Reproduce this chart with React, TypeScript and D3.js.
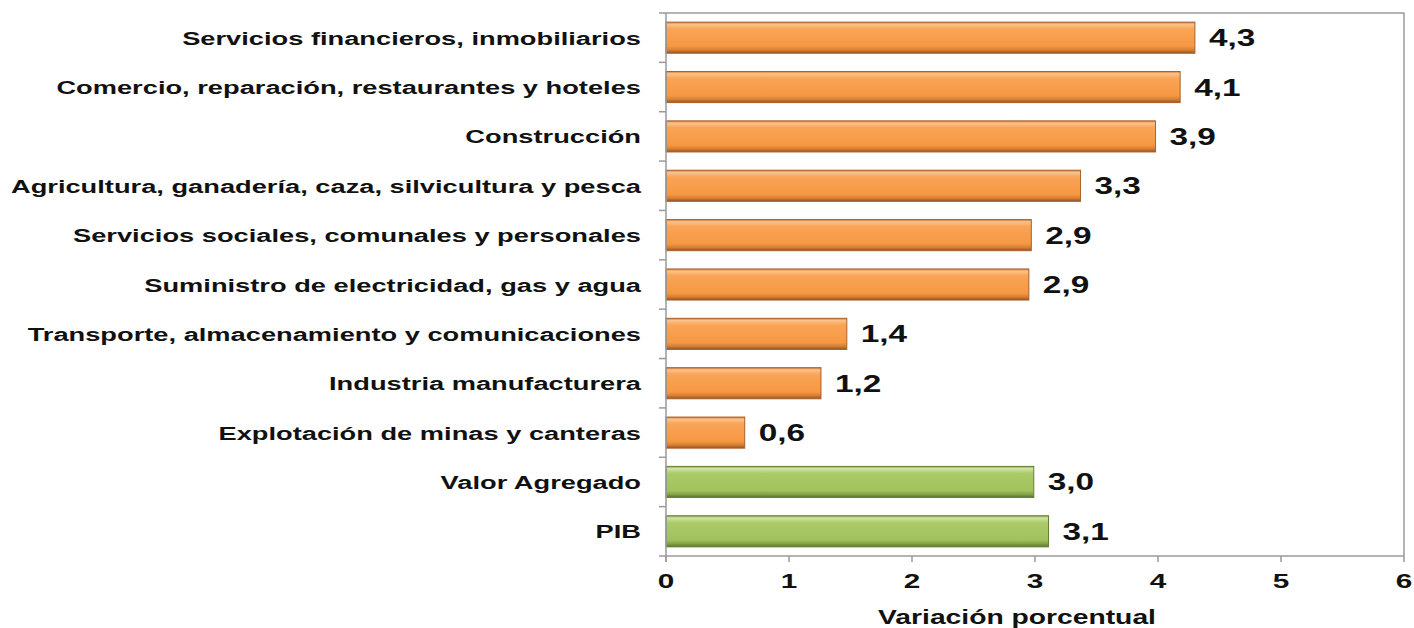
import React, { useEffect, useRef } from 'react';
import * as d3 from 'd3';

const categories = [
  'Servicios financieros, inmobiliarios',
  'Comercio, reparación, restaurantes y hoteles',
  'Construcción',
  'Agricultura, ganadería, caza, silvicultura y pesca',
  'Servicios sociales, comunales y personales',
  'Suministro de electricidad, gas y agua',
  'Transporte, almacenamiento y comunicaciones',
  'Industria manufacturera',
  'Explotación de minas y canteras',
  'Valor Agregado',
  'PIB',
];
// bar lengths, printed labels as shown
const values = [4.3, 4.18, 3.98, 3.37, 2.97, 2.95, 1.47, 1.26, 0.64, 2.99, 3.11];
const printed = ['4,3', '4,1', '3,9', '3,3', '2,9', '2,9', '1,4', '1,2', '0,6', '3,0', '3,1'];
const groups = ['sector', 'sector', 'sector', 'sector', 'sector', 'sector', 'sector', 'sector', 'sector', 'total', 'total'];
const xTicks = [0, 1, 2, 3, 4, 5, 6];

const W = 1414;
const H = 628;
const SX = 1.45; // text in the source is stretched horizontally

function App() {
  const svgRef = useRef<SVGSVGElement>(null);

  useEffect(() => {
    const svg = d3.select(svgRef.current);
    svg.selectAll('*').remove();

    const margin = { top: 13, right: 10, bottom: 72, left: 666 };
    const font = '"Liberation Sans", Arial, sans-serif';

    const x = d3.scaleLinear().domain([0, 6]).range([margin.left, W - margin.right]);
    const y = d3.scaleBand().domain(categories).range([margin.top, H - margin.bottom]).paddingInner(0.37).paddingOuter(0.185);
    const band = d3.scaleBand().domain(categories).range([margin.top, H - margin.bottom]);

    const defs = svg.append('defs');
    const grads: Record<string, string[][]> = {
      sector: [['0%', '#D07A34'], ['7%', '#FCC28C'], ['22%', '#F9A456'], ['78%', '#F69843'], ['90%', '#D67E33'], ['100%', '#94531F']],
      total: [['0%', '#86A54C'], ['7%', '#CFE5A2'], ['22%', '#ABCB69'], ['78%', '#A0C15C'], ['90%', '#85A146'], ['100%', '#57702E']],
    };
    Object.entries(grads).forEach(([k, stops]) => {
      const g = defs.append('linearGradient').attr('id', 'g-' + k).attr('x1', 0).attr('x2', 0).attr('y1', 0).attr('y2', 1);
      stops.forEach(([o, c]) => g.append('stop').attr('offset', o).attr('stop-color', c));
    });

    // plot border (top / right)
    svg.append('path')
      .attr('d', `M${x(0)},${margin.top}H${x(6)}V${H - margin.bottom}`)
      .attr('fill', 'none').attr('stroke', '#9a9a9a').attr('stroke-width', 1.5);

    // bars
    svg.selectAll('.bar')
      .data(categories)
      .enter().append('rect')
      .attr('x', x(0))
      .attr('y', d => y(d)!)
      .attr('width', (d, i) => x(values[i]) - x(0))
      .attr('height', y.bandwidth())
      .attr('fill', (d, i) => `url(#g-${groups[i]})`)
      .attr('stroke', (d, i) => groups[i] === 'sector' ? '#A8612A' : '#667F36')
      .attr('stroke-width', 1);

    // value labels
    svg.selectAll('.val')
      .data(categories)
      .enter().append('text')
      .attr('transform', (d, i) => `translate(${x(values[i]) + 14},${y(d)! + y.bandwidth() / 2 + 8.5}) scale(${SX},1)`)
      .attr('font-family', font).attr('font-weight', 'bold').attr('font-size', 23)
      .attr('fill', '#111')
      .text((d, i) => printed[i]);

    // left axis
    svg.append('line')
      .attr('x1', x(0)).attr('x2', x(0)).attr('y1', margin.top).attr('y2', H - margin.bottom + 6)
      .attr('stroke', '#9a9a9a').attr('stroke-width', 1.5);
    const bounds = categories.map(c => band(c)!).concat([H - margin.bottom]);
    svg.selectAll('.ytick')
      .data(bounds)
      .enter().append('line')
      .attr('x1', x(0) - 7).attr('x2', x(0)).attr('y1', d => d).attr('y2', d => d)
      .attr('stroke', '#9a9a9a').attr('stroke-width', 1.5);
    svg.selectAll('.ylab')
      .data(categories)
      .enter().append('text')
      .attr('transform', d => `translate(${x(0) - 25},${band(d)! + band.bandwidth() / 2 + 7}) scale(${SX},1)`)
      .attr('text-anchor', 'end')
      .attr('font-family', font).attr('font-weight', 'bold').attr('font-size', 18.8)
      .attr('fill', '#111')
      .text(d => d);

    // bottom axis
    svg.append('line')
      .attr('x1', x(0)).attr('x2', x(6)).attr('y1', H - margin.bottom).attr('y2', H - margin.bottom)
      .attr('stroke', '#9a9a9a').attr('stroke-width', 1.5);
    svg.selectAll('.xtick')
      .data(xTicks)
      .enter().append('line')
      .attr('x1', d => x(d)).attr('x2', d => x(d))
      .attr('y1', H - margin.bottom).attr('y2', H - margin.bottom + 6)
      .attr('stroke', '#9a9a9a').attr('stroke-width', 1.5);
    svg.selectAll('.xlab')
      .data(xTicks)
      .enter().append('text')
      .attr('transform', d => `translate(${x(d)},${H - margin.bottom + 32}) scale(${SX},1)`)
      .attr('text-anchor', 'middle')
      .attr('font-family', font).attr('font-weight', 'bold').attr('font-size', 20.5)
      .attr('fill', '#111')
      .text(d => String(d));

    svg.append('text')
      .attr('transform', `translate(1017,${H - 4}) scale(${SX},1)`)
      .attr('text-anchor', 'middle')
      .attr('font-family', font).attr('font-weight', 'bold').attr('font-size', 19.5)
      .attr('fill', '#111')
      .text('Variación porcentual');
  }, []);

  return (
    <svg ref={svgRef} width={W} height={H} style={{ position: 'absolute', left: 0, top: 0, background: '#fff' }}></svg>
  );
}

export default App;
